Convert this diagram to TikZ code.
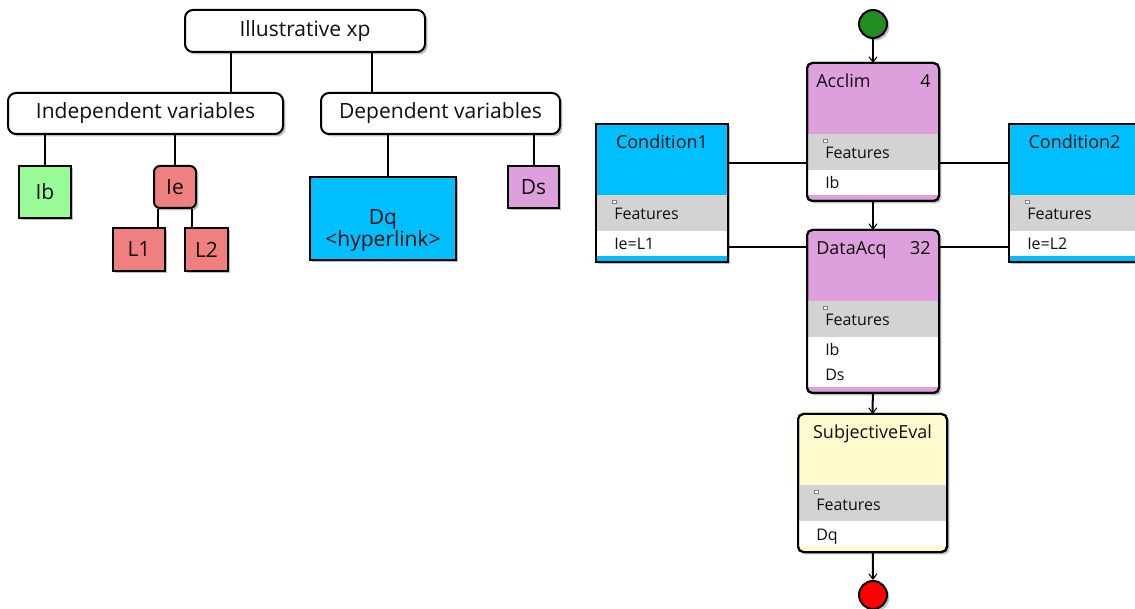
\documentclass[tikz,border=0pt]{standalone}
\usepackage{fontspec}
\setmainfont{Open Sans}
\usetikzlibrary{calc,shadows,arrows.meta}

\definecolor{plumfill}{RGB}{221,160,221}
\definecolor{skyfill}{RGB}{0,191,255}
\definecolor{lemonfill}{RGB}{255,250,205}
\definecolor{greenfill}{RGB}{152,251,152}
\definecolor{coralfill}{RGB}{240,128,128}
\definecolor{featgray}{RGB}{211,211,211}
\definecolor{startgreen}{RGB}{34,139,34}
\definecolor{inkgray}{RGB}{15,15,15}

\newcommand{\pxu}{0.75pt}
% #1 extra style, #2 name, #3 top left, #4 width, #5 rows, #6 fill, #7 title, #8 count, #9 items
\newcommand{\featbox}[9][]{%
	\node[featframe,#1,shadowed,fill=#6,minimum width=#4*\pxu,minimum height=(113+25*#5)*\pxu,anchor=north west] (#2) at (#3) {};
	\fill[featgray] ($(#2.north west)+(0,71)$) rectangle ($(#2.north east)+(0,107)$);
	\fill[white] ($(#2.north west)+(0,107)$) rectangle ($(#2.north east)+(0,107+25*#5)$);
	\draw[featframe,#1] (#2.north west) rectangle (#2.south east);
	\if\relax\detokenize{#8}\relax
		\node[featitle,anchor=base] (#2-title) at ($(#2.north)+(0,25)$) {#7};
	\else
		\node[featitle,anchor=base west] (#2-title) at ($(#2.north west)+(9,25)$) {#7};
		\node[featitle,anchor=base east] (#2-count) at ($(#2.north east)+(-8,25)$) {#8};
	\fi
	\draw[featicon] ($(#2.north west)+(16,76)$) rectangle ++(4,3);
	\node[featrow,anchor=base west] (#2-feat) at ($(#2.north west)+(18,96)$) {Features};
	\foreach \it [count=\k from 0] in {#9}
		\node[featrow,anchor=base west] (#2-item\k) at ($(#2.north west)+(18,126+25*\k)$) {\it};
}

\begin{document}
\begin{tikzpicture}[x=0.75pt,y=-0.75pt,
	every node/.style={text=inkgray},
	shadowed/.style={drop shadow={shadow xshift=1.8pt,shadow yshift=-1.8pt,fill=black,opacity=0.25}},
	treebox/.style={draw=black,line width=1.5pt,shadowed,inner sep=0pt,font=\fontsize{15.75}{19}\selectfont},
	groupbox/.style={treebox,fill=white,rounded corners=6pt,minimum height=41*\pxu},
	leafbox/.style={treebox},
	featframe/.style={draw=black,line width=1.5pt,outer sep=0pt,inner sep=0pt},
	featitle/.style={inner sep=0pt,font=\fontsize{13.5}{16}\selectfont},
	featrow/.style={inner sep=0pt,font=\fontsize{12}{14}\selectfont},
	featicon/.style={draw=gray,fill=white,line width=0.4pt},
	link/.style={draw=black,line width=1.5pt},
	flow/.style={link,-{Straight Barb[length=4pt,width=6pt,line width=0.8pt]}},
	dotnode/.style={circle,draw=black,line width=1.5pt,shadowed,minimum size=28*\pxu,inner sep=0pt}]

	\useasboundingbox (0,0) rectangle (1135,609);

	% tree of variables
	\node[groupbox,minimum width=240*\pxu,minimum height=42*\pxu] (root) at (305,31) {Illustrative xp};
	\node[groupbox,minimum width=275*\pxu] (indep) at (145.5,113.5) {Independent variables};
	\node[groupbox,minimum width=239*\pxu] (dep) at (440.5,113.5) {Dependent variables};
	\node[leafbox,fill=greenfill,minimum width=52*\pxu,minimum height=52*\pxu] (ib) at (45,192) {Ib};
	\node[leafbox,fill=coralfill,rounded corners=4.5pt,minimum width=42*\pxu,minimum height=42*\pxu] (ie) at (175,187) {Ie};
	\node[leafbox,fill=coralfill,minimum width=52*\pxu,minimum height=43*\pxu] (l1) at (139,249.5) {L1};
	\node[leafbox,fill=coralfill,minimum width=43*\pxu,minimum height=43*\pxu] (l2) at (206.5,249.5) {L2};
	\node[leafbox,fill=skyfill,minimum width=146*\pxu,minimum height=83*\pxu] (dq) at (383,218.5) {};
	\node[align=center,inner sep=0pt,font=\fontsize{15.75}{16.5}\selectfont] (dq-text) at ($(dq.center)+(0,12)$) {Dq\\<hyperlink>};
	\node[leafbox,fill=plumfill,minimum width=51*\pxu,minimum height=42*\pxu] (ds) at (533.5,187) {Ds};

	\draw[link] ($(root.south west)+(47,0)$) coordinate (r1) -- (r1 |- indep.north);
	\draw[link] ($(root.south west)+(188,0)$) coordinate (r2) -- (r2 |- dep.north);
	\draw[link] (ib.north |- indep.south) -- (ib.north);
	\draw[link] (ie.north |- indep.south) -- (ie.north);
	\draw[link] ($(ie.south west)+(5,0)$) coordinate (e1) -- (e1 |- l1.north);
	\draw[link] ($(ie.south east)+(-5,0)$) coordinate (e2) -- (e2 |- l2.north);
	\draw[link] ($(dq.north)+(5,0)$) coordinate (d1) -- (d1 |- dep.south);
	\draw[link] (ds.north |- dep.south) -- (ds.north);

	% activity flow
	\featbox{cond1}{596,124}{132}{1}{skyfill}{Condition1}{}{Ie=L1}
	\featbox{cond2}{1009,124}{131}{1}{skyfill}{Condition2}{}{Ie=L2}
	\featbox[rounded corners=4pt]{acclim}{807,63}{132}{1}{plumfill}{Acclim}{4}{Ib}
	\featbox[rounded corners=4pt]{dataacq}{807,230}{132}{2}{plumfill}{DataAcq}{32}{Ib,Ds}
	\featbox[rounded corners=4pt]{subj}{798,414}{149}{1}{lemonfill}{SubjectiveEval}{}{Dq}

	\node[dotnode,fill=startgreen] (start) at (873,24) {};
	\node[dotnode,fill=red] (stop) at (873,595) {};

	\draw[flow] (start) -- (acclim);
	\draw[flow] (acclim) -- (dataacq);
	\draw[flow] (dataacq) -- (subj);
	\draw[flow] (subj) -- (stop);

	\draw[link] ($(cond1.north east)+(0,39)$) coordinate (k1) -- (k1 -| acclim.west);
	\draw[link] ($(cond1.north east)+(0,123)$) coordinate (k2) -- (k2 -| dataacq.west);
	\draw[link] (k1 -| acclim.east) -- (k1 -| cond2.west);
	\draw[link] (k2 -| dataacq.east) -- (k2 -| cond2.west);
\end{tikzpicture}
\end{document}
